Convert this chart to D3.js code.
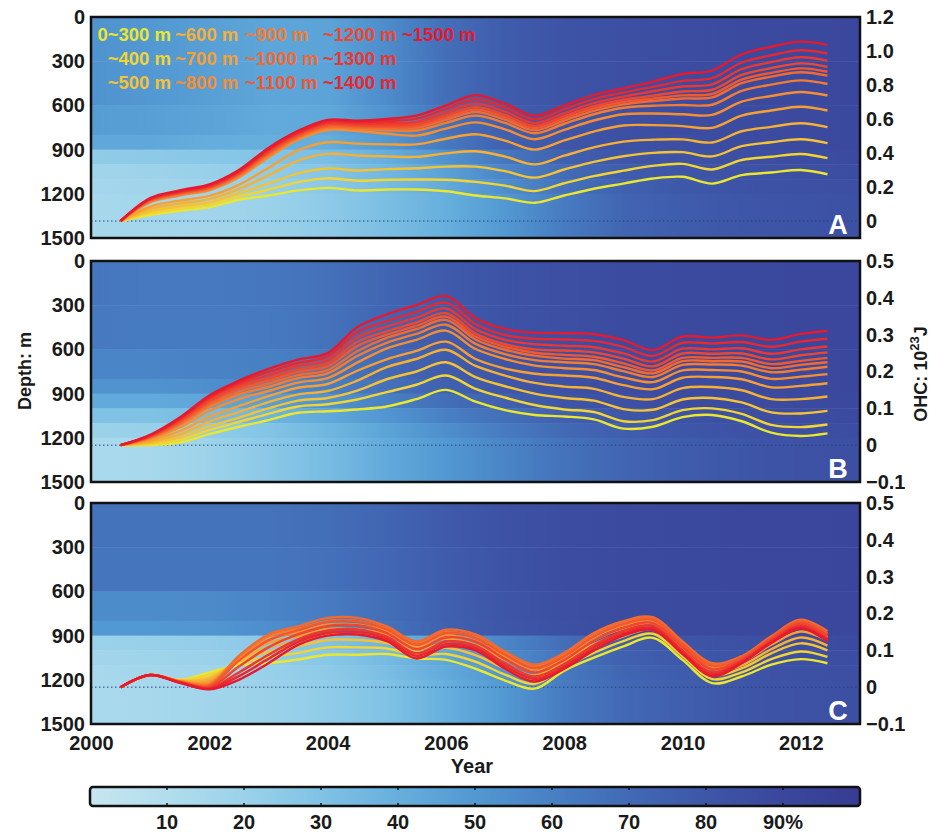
<!DOCTYPE html>
<html lang="en">
<head>
<meta charset="UTF-8">
<title>OHC by depth layer</title>
<script src="https://d3js.org/d3.v7.min.js"></script>
<style>
body { margin: 0; background: #fff; }
svg text { font-family: "Liberation Sans", Arial, Helvetica, sans-serif; font-weight: bold; fill: #1a1a1a; }
.tick text { font-size: 20px; }
</style>
</head>
<body>
<div id="chart"></div>
<script>
// decimal years of the OHC curves
const times = [2000.5, 2001, 2001.5, 2002, 2002.5, 2003, 2003.5, 2004, 2004.5, 2005, 2005.5, 2006, 2006.5,
               2007, 2007.5, 2008, 2008.5, 2009, 2009.5, 2010, 2010.5, 2011, 2011.5, 2012, 2012.45];

const layers = ["0~300 m", "~400 m", "~500 m", "~600 m", "~700 m", "~800 m", "~900 m",
                "~1000 m", "~1100 m", "~1200 m", "~1300 m", "~1400 m", "~1500 m"];
const layerColors = ["#ebe62e", "#f2d433", "#f5c234", "#f6b033", "#f69f33", "#f58e32", "#f47c31",
                     "#f36a30", "#f1582f", "#ef472f", "#ec362f", "#e9272f", "#e6192f"];

// OHC (10^23 J), one row per layer, panel A
const ohcA = [
  [0, .035, .06, .08, .125, .15, .18, .195, .18, .185, .185, .175, .15, .133, .107, .15, .19, .22, .25, .26, .22, .27, .285, .30, .275],
  [0, .046, .073, .095, .144, .184, .229, .251, .237, .243, .244, .243, .23, .208, .176, .222, .264, .296, .324, .336, .303, .359, .378, .394, .37],
  [0, .057, .086, .110, .164, .22, .28, .309, .297, .305, .310, .320, .32, .293, .255, .303, .348, .381, .401, .405, .38, .44, .463, .481, .458],
  [0, .071, .103, .129, .188, .268, .355, .395, .385, .38, .377, .398, .41, .379, .333, .384, .433, .467, .478, .48, .462, .528, .554, .575, .552],
  [0, .085, .12, .148, .213, .312, .415, .463, .455, .451, .451, .484, .51, .473, .42, .474, .526, .562, .564, .558, .548, .62, .65, .672, .65],
  [0, .11, .15, .181, .256, .374, .478, .535, .529, .513, .502, .543, .58, .539, .481, .536, .591, .628, .632, .628, .624, .702, .735, .759, .738],
  [0, .115, .156, .188, .265, .385, .488, .547, .541, .534, .532, .577, .62, .577, .516, .572, .628, .666, .678, .682, .684, .766, .802, .827, .806],
  [0, .119, .161, .193, .272, .394, .495, .555, .549, .546, .547, .595, .641, .596, .534, .591, .648, .686, .706, .721, .727, .811, .849, .875, .855],
  [0, .122, .164, .197, .277, .402, .502, .563, .557, .554, .558, .608, .656, .611, .547, .605, .662, .70, .72, .739, .747, .832, .871, .898, .878],
  [0, .125, .168, .202, .283, .408, .509, .571, .565, .563, .569, .620, .67, .624, .559, .617, .675, .714, .737, .762, .772, .859, .899, .927, .907],
  [0, .128, .172, .206, .288, .416, .516, .579, .574, .575, .583, .637, .69, .643, .576, .635, .693, .732, .763, .791, .804, .893, .935, .963, .943],
  [0, .131, .175, .210, .293, .422, .523, .587, .582, .588, .602, .659, .715, .667, .598, .658, .717, .756, .789, .824, .84, .932, .975, 1.004, .985],
  [0, .135, .18, .215, .30, .43, .53, .595, .59, .60, .62, .68, .74, .69, .62, .68, .74, .78, .82, .865, .885, .98, 1.025, 1.055, 1.036]
];

// panel B
const ohcB = [
  [0, 0, .007, .03, .05, .068, .088, .092, .097, .105, .125, .15, .118, .095, .082, .078, .07, .045, .05, .076, .082, .065, .034, .025, .032],
  [0, .003, .014, .041, .063, .085, .105, .111, .124, .144, .164, .189, .153, .129, .109, .097, .09, .065, .068, .095, .1, .085, .055, .049, .056],
  [0, .006, .021, .051, .075, .1, .121, .128, .148, .179, .2, .225, .185, .16, .14, .128, .121, .098, .096, .124, .128, .116, .089, .086, .093],
  [0, .009, .029, .064, .09, .117, .138, .147, .175, .212, .234, .259, .215, .189, .169, .159, .153, .131, .125, .155, .158, .149, .125, .125, .132],
  [0, .013, .038, .077, .106, .133, .156, .166, .202, .233, .256, .281, .234, .208, .194, .189, .183, .163, .152, .183, .185, .179, .157, .161, .168],
  [0, .017, .048, .093, .125, .147, .17, .182, .224, .263, .286, .311, .261, .234, .216, .209, .204, .184, .171, .203, .204, .2, .18, .186, .193],
  [0, .02, .055, .104, .138, .158, .182, .195, .242, .278, .302, .327, .275, .247, .231, .225, .22, .201, .185, .218, .219, .216, .198, .205, .213],
  [0, .021, .059, .11, .145, .167, .19, .204, .255, .291, .315, .34, .287, .259, .243, .235, .231, .212, .195, .228, .228, .227, .209, .218, .225],
  [0, .023, .063, .116, .153, .175, .199, .214, .269, .30, .324, .349, .295, .267, .251, .245, .24, .222, .203, .237, .237, .237, .22, .229, .237],
  [0, .024, .066, .121, .159, .182, .206, .222, .28, .309, .333, .358, .303, .274, .26, .257, .252, .235, .214, .249, .248, .249, .233, .244, .252],
  [0, .026, .07, .127, .165, .19, .215, .231, .293, .322, .346, .371, .315, .286, .274, .27, .266, .249, .227, .262, .26, .263, .248, .26, .268],
  [0, .027, .072, .131, .17, .199, .223, .241, .307, .337, .362, .387, .329, .299, .289, .287, .283, .267, .242, .278, .276, .28, .267, .281, .289],
  [0, .028, .075, .135, .175, .207, .232, .25, .32, .355, .38, .405, .345, .315, .305, .304, .301, .285, .258, .295, .292, .298, .286, .302, .31]
];

// panel C
const ohcC = [
  [0, .033, .02, .04, .06, .065, .075, .088, .088, .09, .078, .074, .05, .018, -.004, .045, .08, .111, .134, .074, .011, .029, .061, .076, .065],
  [0, .033, .019, .033, .065, .081, .093, .108, .108, .105, .087, .09, .069, .034, .009, .055, .093, .125, .145, .084, .022, .04, .076, .097, .082],
  [0, .033, .018, .026, .07, .096, .111, .128, .128, .12, .096, .107, .087, .05, .022, .064, .107, .138, .156, .094, .033, .051, .092, .119, .1],
  [0, .033, .017, .021, .074, .108, .125, .143, .143, .131, .103, .119, .101, .061, .032, .071, .117, .148, .165, .102, .041, .059, .103, .135, .113],
  [0, .033, .017, .016, .078, .12, .138, .158, .158, .143, .11, .131, .115, .073, .042, .079, .127, .159, .173, .109, .049, .068, .115, .151, .126],
  [0, .033, .016, .011, .081, .129, .149, .17, .17, .152, .116, .141, .126, .083, .049, .084, .135, .167, .18, .115, .055, .074, .124, .164, .136],
  [0, .033, .016, .008, .083, .137, .158, .18, .18, .159, .12, .149, .136, .091, .056, .089, .142, .174, .186, .12, .061, .08, .132, .174, .145],
  [0, .033, .015, .005, .085, .143, .165, .188, .188, .165, .124, .156, .143, .097, .061, .093, .147, .179, .19, .124, .065, .084, .138, .183, .152],
  [0, .033, .014, .003, .072, .127, .155, .178, .179, .157, .115, .147, .134, .088, .052, .084, .138, .171, .183, .117, .058, .08, .134, .178, .146],
  [0, .033, .014, 0, .056, .108, .143, .166, .168, .147, .103, .135, .124, .076, .04, .074, .126, .161, .174, .109, .049, .075, .13, .173, .139],
  [0, .033, .013, -.003, .04, .088, .13, .154, .157, .137, .092, .124, .113, .064, .029, .063, .114, .152, .166, .10, .041, .071, .125, .167, .132],
  [0, .033, .013, -.004, .03, .077, .123, .147, .15, .131, .085, .117, .106, .057, .022, .056, .107, .146, .16, .095, .035, .068, .123, .163, .128],
  [0, .033, .012, -.006, .02, .065, .115, .14, .143, .125, .078, .11, .10, .05, .015, .05, .10, .14, .155, .09, .03, .065, .12, .16, .124]
];

// data coverage (%) behind each panel: rows = depth bands, columns = years
const depthBands = [0, 300, 600, 800, 900, 1000, 1100, 1200, 1500];
const covYears = [2000, 2001, 2002, 2003, 2004, 2005, 2006, 2007, 2008, 2009, 2010, 2011, 2012, 2013];
const coverA = [
  [52, 50, 47, 44, 45, 55, 68, 77, 82, 85, 86, 88, 89, 90],
  [52, 50, 47, 44, 45, 55, 68, 77, 82, 85, 86, 88, 89, 90],
  [48, 47, 45, 42, 43, 52, 66, 76, 81, 84, 86, 87, 88, 89],
  [43, 43, 41, 40, 41, 50, 63, 74, 80, 84, 85, 87, 88, 89],
  [24, 25, 27, 29, 32, 40, 52, 64, 74, 80, 83, 85, 86, 88],
  [18, 19, 21, 24, 28, 36, 46, 58, 69, 77, 81, 83, 85, 86],
  [16, 17, 19, 22, 26, 33, 42, 54, 66, 74, 79, 82, 84, 85],
  [15, 16, 17, 20, 25, 32, 40, 50, 62, 72, 77, 80, 82, 84]
];
const coverB = [
  [64, 63, 63, 64, 67, 72, 78, 82, 85, 87, 88, 89, 90, 90],
  [63, 62, 62, 63, 66, 72, 78, 82, 85, 87, 88, 89, 90, 90],
  [58, 58, 59, 60, 64, 70, 77, 81, 84, 86, 88, 89, 89, 90],
  [52, 52, 54, 56, 60, 67, 74, 80, 84, 86, 87, 88, 89, 90],
  [42, 42, 44, 47, 52, 60, 68, 75, 81, 84, 86, 87, 88, 89],
  [30, 30, 33, 37, 43, 51, 60, 68, 75, 80, 83, 85, 86, 88],
  [20, 21, 24, 29, 36, 45, 54, 62, 70, 76, 80, 83, 85, 86],
  [14, 15, 19, 26, 33, 42, 50, 58, 66, 72, 77, 80, 83, 85]
];
const coverC = [
  [66, 66, 66, 66, 68, 72, 78, 83, 86, 88, 89, 90, 90, 91],
  [65, 65, 65, 65, 67, 71, 77, 82, 86, 88, 89, 90, 90, 91],
  [55, 55, 56, 58, 62, 68, 75, 81, 85, 87, 88, 89, 90, 90],
  [50, 50, 51, 54, 59, 66, 74, 80, 84, 87, 88, 89, 90, 90],
  [20, 21, 23, 26, 30, 37, 47, 58, 68, 76, 81, 84, 86, 88],
  [17, 18, 20, 23, 27, 34, 44, 55, 65, 74, 79, 82, 85, 86],
  [15, 16, 18, 21, 25, 32, 42, 52, 63, 72, 77, 81, 84, 85],
  [14, 15, 17, 20, 24, 30, 40, 50, 62, 70, 76, 80, 83, 85]
];

const depthTicks = [0, 300, 600, 900, 1200, 1500];
const ohcTicksA = [0, 0.2, 0.4, 0.6, 0.8, 1.0, 1.2];
const ohcTicksBC = [-0.1, 0, 0.1, 0.2, 0.3, 0.4, 0.5];
const yearTicks = [2000, 2002, 2004, 2006, 2008, 2010, 2012];
const barTicks = [10, 20, 30, 40, 50, 60, 70, 80, 90];
const barColors = ["#c6e6ef", "#b2ddee", "#9bd2ea", "#80c2e5", "#66afdd", "#5298d2",
                   "#4880c4", "#4269b5", "#3e56a8", "#3a479d", "#363c92"];

const width = 942, height = 833;
const x0 = 91, x1 = 860;

const svg = d3.select('#chart').append('svg')
    .attr('width', width)
    .attr('height', height);
const defs = svg.append('defs');

const x = d3.scaleLinear().domain([2000, 2013]).range([x0, x1]);
const color = d3.scaleLinear().domain(d3.range(0, 101, 10)).range(barColors);

const panels = [
  {id: 'A', top: 17, bottom: 238, ohc: ohcA, cover: coverA, dom: [-0.1, 1.2], ticks: ohcTicksA},
  {id: 'B', top: 261, bottom: 482, ohc: ohcB, cover: coverB, dom: [-0.1, 0.5], ticks: ohcTicksBC},
  {id: 'C', top: 503, bottom: 724, ohc: ohcC, cover: coverC, dom: [-0.1, 0.5], ticks: ohcTicksBC}
];

const fmt = d => d === 0 ? '0' : d3.format('.1f')(d);

panels.forEach(p => {
  const depth = d3.scaleLinear().domain([0, 1500]).range([p.top, p.bottom]);
  const val = d3.scaleLinear().domain(p.dom).range([p.bottom, p.top]);

  defs.append('clipPath').attr('id', 'clip' + p.id)
    .append('rect')
    .attr('x', x0).attr('y', p.top)
    .attr('width', x1 - x0).attr('height', p.bottom - p.top);

  // coverage background, one gradient per depth band
  const bg = svg.append('g');
  p.cover.forEach((row, b) => {
    const gid = `cov${p.id}${b}`;
    const grad = defs.append('linearGradient').attr('id', gid)
      .attr('gradientUnits', 'userSpaceOnUse')
      .attr('x1', x(covYears[0])).attr('x2', x(covYears[covYears.length - 1]))
      .attr('y1', 0).attr('y2', 0);
    row.forEach((c, j) => {
      grad.append('stop')
        .attr('offset', (covYears[j] - covYears[0]) / (covYears[covYears.length - 1] - covYears[0]))
        .attr('stop-color', color(c));
    });
    bg.append('rect')
      .attr('x', x0)
      .attr('y', depth(depthBands[b]))
      .attr('width', x1 - x0)
      .attr('height', depth(depthBands[b + 1]) - depth(depthBands[b]) + 0.5)
      .attr('fill', `url(#${gid})`);
  });

  // zero line
  svg.append('line')
    .attr('x1', x0).attr('x2', x1)
    .attr('y1', val(0)).attr('y2', val(0))
    .attr('stroke', '#23457a')
    .attr('stroke-width', 1)
    .attr('stroke-dasharray', '1.5,2.5');

  const line = d3.line()
    .x((d, i) => x(times[i]))
    .y(d => val(d))
    .curve(d3.curveCatmullRom.alpha(0.5));

  svg.append('g').attr('clip-path', `url(#clip${p.id})`)
    .selectAll('path')
    .data(p.ohc)
    .join('path')
    .attr('d', line)
    .attr('fill', 'none')
    .attr('stroke', (d, i) => layerColors[i])
    .attr('stroke-width', 2.4)
    .attr('stroke-linejoin', 'round');

  // frame
  svg.append('rect')
    .attr('x', x0).attr('y', p.top)
    .attr('width', x1 - x0).attr('height', p.bottom - p.top)
    .attr('fill', 'none')
    .attr('stroke', '#111')
    .attr('stroke-width', 2.5);

  const gl = svg.append('g')
    .attr('transform', `translate(${x0},0)`)
    .call(d3.axisLeft(depth).tickValues(depthTicks).tickFormat(d3.format('d')).tickSize(0).tickPadding(6));
  gl.select('.domain').remove();

  const gr = svg.append('g')
    .attr('transform', `translate(${x1},0)`)
    .call(d3.axisRight(val).tickValues(p.ticks).tickFormat(fmt).tickSize(0).tickPadding(6));
  gr.select('.domain').remove();

  svg.append('text')
    .attr('x', 838).attr('y', p.bottom - 4)
    .attr('text-anchor', 'middle')
    .style('fill', '#fff')
    .style('font-size', '27px')
    .text(p.id);

  if (p.id === 'C') {
    const gx = svg.append('g')
      .attr('transform', `translate(0,${p.bottom})`)
      .call(d3.axisBottom(x).tickValues(yearTicks).tickFormat(d3.format('d')).tickSize(0).tickPadding(12));
    gx.select('.domain').remove();
  }
});

// legend of layers inside panel A
const legCols = [171, 175, 245, 323, 402];
const legRows = [41, 65, 89];
svg.append('g').selectAll('text')
  .data(layers)
  .join('text')
  .attr('x', (d, i) => legCols[Math.floor(i / 3)])
  .attr('y', (d, i) => legRows[i % 3])
  .attr('text-anchor', (d, i) => i < 3 ? 'end' : 'start')
  .style('fill', (d, i) => layerColors[i])
  .style('font-size', '18.5px')
  .text(d => d);

// axis titles
svg.append('text')
  .attr('transform', 'translate(31,371) rotate(-90)')
  .attr('text-anchor', 'middle')
  .style('font-size', '18px')
  .text('Depth: m');

const ohcTitle = svg.append('text')
  .attr('transform', 'translate(927,374) rotate(-90)')
  .attr('text-anchor', 'middle')
  .style('font-size', '18px');
ohcTitle.append('tspan').text('OHC: 10');
ohcTitle.append('tspan').attr('dy', -8).style('font-size', '13px').text('23');
ohcTitle.append('tspan').attr('dy', 8).text('J');

svg.append('text')
  .attr('x', 472).attr('y', 773)
  .attr('text-anchor', 'middle')
  .style('font-size', '20px')
  .text('Year');

// colour bar
const bx = d3.scaleLinear().domain([0, 100]).range([90, 860]);
const barTop = 787, barH = 19;
const bgrad = defs.append('linearGradient').attr('id', 'barGrad');
barColors.forEach((c, i) => {
  bgrad.append('stop').attr('offset', i / (barColors.length - 1)).attr('stop-color', c);
});
svg.append('rect')
  .attr('x', bx(0)).attr('y', barTop)
  .attr('width', bx(100) - bx(0)).attr('height', barH)
  .attr('rx', 3)
  .attr('fill', 'url(#barGrad)')
  .attr('stroke', '#111')
  .attr('stroke-width', 2.5);
svg.append('g').selectAll('line')
  .data(barTicks.flatMap(t => [[t, barTop], [t, barTop + barH - 3]]))
  .join('line')
  .attr('x1', d => bx(d[0])).attr('x2', d => bx(d[0]))
  .attr('y1', d => d[1]).attr('y2', d => d[1] + 3)
  .attr('stroke', '#111')
  .attr('stroke-width', 1.5);
svg.append('g').selectAll('text')
  .data(barTicks)
  .join('text')
  .attr('x', d => bx(d))
  .attr('y', 829)
  .attr('text-anchor', 'middle')
  .style('font-size', '20px')
  .text(d => d === 90 ? '90%' : d);
</script>
</body>
</html>
